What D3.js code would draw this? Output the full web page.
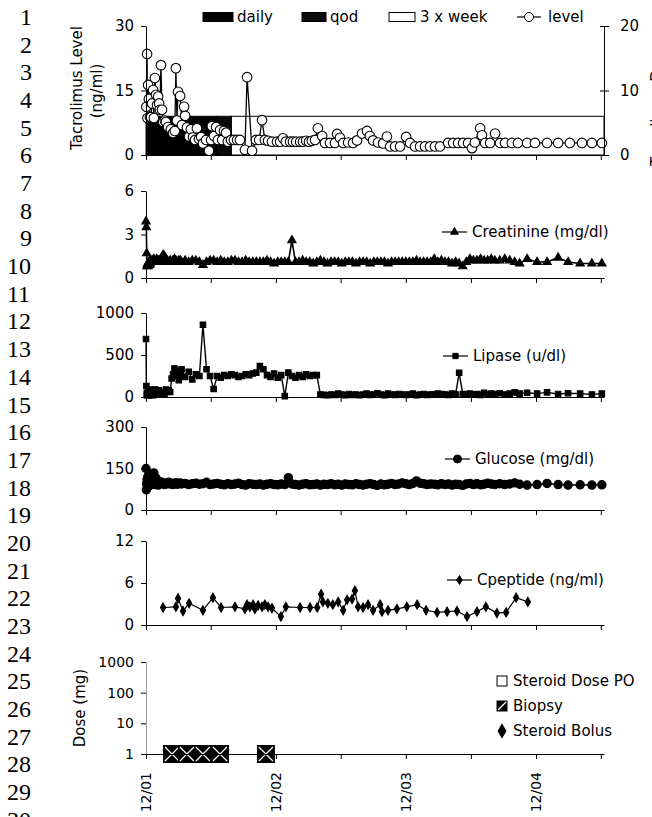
<!DOCTYPE html>
<html>
<head>
<meta charset="utf-8">
<script src="https://cdn.jsdelivr.net/npm/d3@7"></script>
<style>
  body { margin: 0; background: #fff; }
  svg { display: block; font-family: "DejaVu Sans", "Liberation Sans", Arial, sans-serif; }
  .lineno { font-family: "Liberation Serif", "Times New Roman", serif; font-size: 24px; fill: #000; }
  .axis text { font-family: "DejaVu Sans", sans-serif; font-size: 15px; fill: #000; }
  .lbl { font-size: 15px; fill: #000; }
</style>
</head>
<body>
<div id="chart"></div>
<script>
// ---- data (days counted from 12/01/2001) ----
var tickDates = ["2001-12-01", "2002-06-01", "2002-12-01", "2003-06-01", "2003-12-01", "2004-06-01", "2004-12-01", "2005-06-01"];
var tickLabels = ["12/01", "", "12/02", "", "12/03", "", "12/04", ""];

// tacrolimus trough levels (ng/ml)
var tacroDays = [1,3,4,6,8,11,14,17,20,22, 25,28,31,34,37,39,42,45,48,53,
  56,62,70,76,81,84,87,90,96,101, 107,110,115,121,126,132,138,143,149,155,
  160,169,177,183,185,191,197,202,208,214, 219,225,230,239,247,256,264,278,284,298,
  309,318,326,334,343,354,368,377,385,393, 405,413,422,433,441,450,458,466,475,483,
  495,503,517,531,537,545,554,568,582,593, 607,621,629,638,652,666,677,686,700,714,
  731,742,756,770,784,798,812,826,849,863, 877,891,905,916,924,939,944,953,967,981,
  995,1009,1028,1045,1071,1093,1127,1158,1191,1225, 1253,1281];
var tacroLevels = [11.2,23.5,8.6,16.3,13.0,8.8,8.8,12.0,15.1,8.6, 17.9,14.0,11.6,13.6,12.0,10.5,20.9,10.5,7.7,8.0,
  7.7,6.5,6.0,5.1,5.6,20.2,8.0,14.7,13.7,7.0, 11.2,9.1,6.4,4.3,6.0,4.1,3.5,6.2,3.7,4.2,
  2.7,3.5,1.0,3.5,6.7,4.4,6.5,3.5,5.8,3.5, 5.6,5.2,3.1,3.5,3.5,3.5,3.5,1.2,18.1,1.0,
  3.5,3.5,8.1,3.5,3.3,3.1,3.1,3.1,3.9,3.1, 3.1,3.1,3.1,3.1,3.1,3.3,3.1,3.3,3.5,6.2,
  4.4,2.8,2.8,2.8,4.9,4.0,2.8,2.9,2.8,3.4, 5.0,5.6,4.4,3.4,2.9,2.7,4.3,2.0,2.0,2.0,
  4.2,2.8,2.0,2.0,2.0,2.0,2.0,2.0,2.8,2.8, 2.8,2.8,2.8,1.6,2.9,6.2,4.6,2.8,2.8,5.0,
  2.8,2.8,2.8,2.8,2.8,2.8,2.8,2.8,2.8,2.8, 2.8,2.8];

// tacrolimus dose regimens (mg)
var regimens = ["daily", "qod", "3 x week"];
var regimenStart = [0, 200, 240];
var regimenEnd = [200, 240, 1287];
var regimenDose = [6, 6, 6];

// lab draws
var labDays = [0,1,2,3,4,5,6,7,8,9,10,11,12,13,14,
  16,18,20,22,24,26,28,30,32,34,36,38,40,
  44,48,52,56,60,64,68,72,76,80,84,88,92,96,100,
  110,120,130,140,150,160,170,180,190,200,
  210,220,230,240,250,260,270,280,290,300,
  310,320,330,340,350,360,370,380,390,400,
  410,420,430,440,450,460,470,480,490,500,
  510,520,530,540,550,560,570,580,590,600,
  610,620,630,640,650,660,670,680,690,700,
  710,720,730,740,750,760,770,780,790,800,
  810,820,830,840,850,860,870,880,890,900,
  910,920,930,940,950,960,970,980,
  994,1008,1022,1036,1050,
  1071,1099,1127,1158,1186,1220,1253,1281];
var creatinine = [3.9,3.5,1.7,0.8,0.9,1.0,0.8,0.9,1.1,1.0,0.9,1.2,1.0,1.1,1.2,
  1.1,1.2,1.1,1.3,1.2,1.1,1.2,1.3,1.2,1.1,1.2,1.2,1.1,
  1.4,1.6,1.5,1.3,1.2,1.1,1.2,1.1,1.2,1.3,1.2,1.1,1.2,1.2,1.1,
  1.2,1.1,1.2,1.2,1.1,0.9,1.1,1.2,1.2,1.1,
  1.2,1.1,1.1,1.2,1.2,1.1,1.1,1.2,1.1,1.1,
  1.1,1.1,1.1,1.2,1.1,1.0,1.1,1.1,1.1,1.1,
  2.6,1.1,1.1,1.2,1.1,1.1,1.0,1.1,1.2,1.1,
  1.0,1.1,1.1,1.1,1.0,1.1,1.1,1.1,1.0,1.1,
  1.1,1.1,1.0,1.1,1.1,1.1,1.1,1.0,1.1,1.1,
  1.1,1.1,1.1,1.1,1.1,1.2,1.1,1.1,1.1,1.1,
  1.3,1.1,1.2,1.1,1.1,1.0,1.1,1.0,0.8,1.1,
  1.3,1.2,1.2,1.3,1.2,1.2,1.3,1.2,
  1.2,1.3,1.2,1.1,1.0,
  1.3,1.1,1.1,1.4,1.1,1.0,1.0,1.0];
var lipase = [690,130,40,20,30,60,20,40,80,30,50,20,60,90,40,
  30,50,20,70,40,90,50,30,60,40,80,50,40,
  60,50,40,90,60,80,60,220,270,340,250,300,200,260,330,
  240,300,210,270,250,860,330,250,96,250,
  230,260,250,270,260,240,250,270,260,280,
  290,368,330,260,240,280,230,260,10,290,
  250,230,260,240,270,250,260,260,30,25,
  20,30,25,40,30,20,35,25,30,20,
  30,40,25,30,45,30,20,40,30,25,
  35,30,25,30,40,20,30,35,25,30,
  30,40,35,30,25,40,30,288,35,30,
  40,30,35,25,50,30,40,35,
  45,30,40,55,40,
  50,40,55,35,45,40,30,40];
var glucose = [150,73,95,110,88,120,100,85,105,130,95,90,115,100,92,
  108,98,125,134,100,92,115,96,105,90,98,102,95,
  100,96,92,98,95,100,94,97,92,96,99,93,95,98,94,
  96,92,95,97,93,95,100,92,94,96,
  93,91,95,92,94,97,92,90,95,93,
  92,94,90,93,95,92,91,94,92,117,
  94,92,90,93,95,91,92,94,90,93,
  92,95,91,93,90,94,92,91,95,92,
  90,93,95,92,89,94,91,93,96,92,
  94,98,95,92,96,105,97,95,92,94,
  93,91,95,92,94,90,93,92,89,94,
  96,92,95,91,93,97,94,92,
  95,92,94,98,93,
  90,92,96,92,90,91,90,91];

// C-peptide (ng/ml)
var cpepDays = [48,84,90,104,121,160,188,211,250,278, 284,292,301,306,315,326,334,343,354,379,
  393,433,461,481,492,497,511,525,540,554, 565,579,587,596,610,624,638,658,663,680,
  705,733,762,787,818,846,874,902,930,955, 986,1012,1040,1073];
var cpeptide = [2.5,2.6,3.8,2.0,3.1,2.1,3.9,2.5,2.6,2.3, 2.9,2.6,2.9,2.3,2.8,2.6,2.9,2.6,2.4,1.2,
  2.6,2.5,2.5,2.5,4.4,3.3,3.1,2.9,3.3,2.1, 3.6,3.7,4.9,2.6,2.5,2.9,2.1,2.9,1.9,2.1,
  2.3,2.6,2.9,2.1,1.8,1.9,2.0,1.2,1.9,2.6, 1.7,1.8,3.9,3.3];

// biopsies (plotted at 1 on the dose axis)
var biopsyDays = [73, 115, 160, 208, 337];

// ---- drawing ----
var parse = d3.timeParse("%Y-%m-%d");
var start = parse("2001-12-01");
function dayDate(n) { return d3.timeDay.offset(start, n); }

var svg = d3.select("#chart").append("svg")
    .attr("width", 652)
    .attr("height", 817);

var x = d3.scaleTime()
    .domain([start, dayDate(1287)])
    .range([146, 604]);

// manuscript line numbers down the left edge
d3.range(1, 31).forEach(function(n) {
    svg.append("text")
        .attr("class", "lineno")
        .attr("x", n < 10 ? 20 : 7)
        .attr("y", 25 + (n - 1) * 27.68)
        .text(n);
});

function xAxis(yPix) {
    return svg.append("g")
        .attr("class", "axis")
        .attr("transform", "translate(0," + yPix + ")")
        .call(d3.axisBottom(x)
            .tickValues(tickDates.map(parse))
            .tickSize(5)
            .tickSizeOuter(0)
            .tickFormat(""));
}

function yAxis(scale, ticks) {
    return svg.append("g")
        .attr("class", "axis")
        .attr("transform", "translate(146,0)")
        .call(d3.axisLeft(scale)
            .tickValues(ticks)
            .tickSize(5)
            .tickSizeOuter(0)
            .tickPadding(7)
            .tickFormat(d3.format("d")));
}

function series(days, vals, yScale, symbolType, size, fill, lw) {
    var data = days.map(function(d, i) { return { date: dayDate(d), v: vals[i] }; });
    svg.append("path")
        .datum(data)
        .attr("fill", "none")
        .attr("stroke", "#000")
        .attr("stroke-width", lw)
        .attr("d", d3.line()
            .x(function(d) { return x(d.date); })
            .y(function(d) { return yScale(d.v); }));
    svg.append("g").selectAll("path")
        .data(data)
        .enter().append("path")
        .attr("transform", function(d) { return "translate(" + x(d.date) + "," + yScale(d.v) + ")"; })
        .attr("d", d3.symbol().type(symbolType).size(size))
        .attr("fill", fill)
        .attr("stroke", "#000")
        .attr("stroke-width", 1.1);
}

function lineLegend(x0, yb, label, symbolType, size, fill) {
    svg.append("line")
        .attr("x1", x0).attr("x2", x0 + 25)
        .attr("y1", yb - 5).attr("y2", yb - 5)
        .attr("stroke", "#000")
        .attr("stroke-width", 1.2);
    svg.append("path")
        .attr("transform", "translate(" + (x0 + 12.5) + "," + (yb - 5) + ")")
        .attr("d", d3.symbol().type(symbolType).size(size))
        .attr("fill", fill)
        .attr("stroke", "#000");
    svg.append("text")
        .attr("class", "lbl")
        .attr("x", x0 + 30)
        .attr("y", yb)
        .text(label);
}

// ---------- panel 1: tacrolimus level + dose ----------
var yTac = d3.scaleLinear().domain([0, 30]).range([155, 26]);
var yDoseR = d3.scaleLinear().domain([0, 20]).range([155, 26]);
var regimenFill = { "daily": "#000", "qod": "#0a0a0a", "3 x week": "#fff" };

svg.append("g").selectAll("rect")
    .data(regimens)
    .enter().append("rect")
    .attr("x", function(r, i) { return x(dayDate(regimenStart[i])); })
    .attr("width", function(r, i) { return x(dayDate(regimenEnd[i])) - x(dayDate(regimenStart[i])); })
    .attr("y", function(r, i) { return yDoseR(regimenDose[i]); })
    .attr("height", function(r, i) { return yDoseR(0) - yDoseR(regimenDose[i]); })
    .attr("fill", function(r) { return regimenFill[r]; })
    .attr("stroke", "#000")
    .attr("stroke-width", 1);

series(tacroDays, tacroLevels, yTac, d3.symbolCircle, 72, "#fff", 1.3);
xAxis(155);
yAxis(yTac, [0, 15, 30]);

var gR = svg.append("g")
    .attr("class", "axis")
    .attr("transform", "translate(604,0)")
    .call(d3.axisRight(yDoseR).tickValues([0, 10, 20]).tickSize(5).tickSizeOuter(0).tickPadding(11));
gR.selectAll(".tick line").attr("x1", -4);

svg.append("text").attr("class", "lbl")
    .attr("transform", "translate(77,88) rotate(-90)")
    .attr("text-anchor", "middle").attr("dy", "0.35em")
    .text("Tacrolimus Level");
svg.append("text").attr("class", "lbl")
    .attr("transform", "translate(97,91) rotate(-90)")
    .attr("text-anchor", "middle").attr("dy", "0.35em")
    .text("(ng/ml)");
// right-hand axis title, mostly beyond the page edge as in the scan
svg.append("text").attr("class", "lbl")
    .attr("transform", "translate(662,105) rotate(-90)")
    .attr("text-anchor", "middle")
    .text("Tacrolimus Dose");

// top legend
svg.append("rect").attr("x", 203).attr("y", 12.5).attr("width", 30).attr("height", 9).attr("fill", regimenFill["daily"]).attr("stroke", "#000");
svg.append("text").attr("class", "lbl").attr("x", 237).attr("y", 22).text("daily");
svg.append("rect").attr("x", 302).attr("y", 12.5).attr("width", 24).attr("height", 9).attr("fill", regimenFill["qod"]).attr("stroke", "#000");
svg.append("text").attr("class", "lbl").attr("x", 330).attr("y", 22).text("qod");
svg.append("rect").attr("x", 389).attr("y", 12.5).attr("width", 26).attr("height", 9).attr("fill", regimenFill["3 x week"]).attr("stroke", "#000");
svg.append("text").attr("class", "lbl").attr("x", 420).attr("y", 22).text("3 x week");
svg.append("line").attr("x1", 517).attr("x2", 541).attr("y1", 17).attr("y2", 17).attr("stroke", "#000").attr("stroke-width", 1.2);
svg.append("path").attr("transform", "translate(529,17)").attr("d", d3.symbol().type(d3.symbolCircle).size(64)).attr("fill", "#fff").attr("stroke", "#000");
svg.append("text").attr("class", "lbl").attr("x", 548).attr("y", 22).text("level");

// ---------- panel 2: creatinine ----------
var yCr = d3.scaleLinear().domain([0, 6]).range([278, 191]);
series(labDays, creatinine, yCr, d3.symbolTriangle, 30, "#000", 1.6);
xAxis(278);
yAxis(yCr, [0, 3, 6]);
lineLegend(442, 237, "Creatinine (mg/dl)", d3.symbolTriangle, 26, "#000");

// ---------- panel 3: lipase ----------
var yLip = d3.scaleLinear().domain([0, 1000]).range([397, 313]);
series(labDays, lipase, yLip, d3.symbolSquare, 30, "#000", 1.4);
xAxis(397);
yAxis(yLip, [0, 500, 1000]);
lineLegend(443, 361, "Lipase (u/dl)", d3.symbolSquare, 28, "#000");

// ---------- panel 4: glucose ----------
var yGlu = d3.scaleLinear().domain([0, 300]).range([510, 427]);
series(labDays, glucose, yGlu, d3.symbolCircle, 55, "#000", 1.4);
xAxis(510);
yAxis(yGlu, [0, 150, 300]);
lineLegend(445, 464, "Glucose (mg/dl)", d3.symbolCircle, 50, "#000");

// ---------- panel 5: C-peptide ----------
var yCp = d3.scaleLinear().domain([0, 12]).range([625, 541]);
series(cpepDays, cpeptide, yCp, d3.symbolDiamond, 24, "#000", 1.2);
xAxis(625);
yAxis(yCp, [0, 6, 12]);
lineLegend(447, 585, "Cpeptide (ng/ml)", d3.symbolDiamond, 24, "#000");

// ---------- panel 6: dose / biopsy ----------
var yDose = d3.scaleLog().domain([1, 1000]).range([754, 662]);
var gDy = yAxis(yDose, [1, 10, 100, 1000]);
gDy.select(".domain").attr("stroke", "#999");
gDy.selectAll("text").style("font-size", "14px");

var gB = svg.append("g").selectAll("g")
    .data(biopsyDays)
    .enter().append("g")
    .attr("transform", function(d) { return "translate(" + x(dayDate(d)) + "," + yDose(1) + ")"; });
gB.append("rect")
    .attr("x", -9).attr("y", -9).attr("width", 18).attr("height", 18)
    .attr("fill", "#000");
gB.append("path")
    .attr("d", "M-7,-7L7,7M7,-7L-7,7")
    .attr("stroke", "#fff")
    .attr("stroke-width", 1.2);

xAxis(754);
svg.append("g").selectAll("text")
    .data(tickDates)
    .enter().append("text")
    .attr("class", "lbl")
    .style("font-size", "14px")
    .attr("transform", function(d) { return "translate(" + x(parse(d)) + ",772) rotate(-90)"; })
    .attr("text-anchor", "end")
    .attr("dy", "0.35em")
    .text(function(d, i) { return tickLabels[i]; });

svg.append("text").attr("class", "lbl")
    .attr("transform", "translate(80,708) rotate(-90)")
    .attr("text-anchor", "middle").attr("dy", "0.35em")
    .text("Dose (mg)");

// dose legend
svg.append("rect").attr("x", 497).attr("y", 676).attr("width", 10).attr("height", 10).attr("fill", "#fff").attr("stroke", "#000");
svg.append("text").attr("class", "lbl").attr("x", 513).attr("y", 686).text("Steroid Dose PO");
svg.append("rect").attr("x", 497).attr("y", 701).attr("width", 10).attr("height", 10).attr("fill", "#000").attr("stroke", "#000");
svg.append("path").attr("d", "M498,710L506,702").attr("stroke", "#fff").attr("stroke-width", 1.2);
svg.append("text").attr("class", "lbl").attr("x", 513).attr("y", 711).text("Biopsy");
svg.append("path").attr("transform", "translate(502,731)").attr("d", d3.symbol().type(d3.symbolDiamond).size(70)).attr("fill", "#000");
svg.append("text").attr("class", "lbl").attr("x", 513).attr("y", 736).text("Steroid Bolus");
</script>
</body>
</html>
